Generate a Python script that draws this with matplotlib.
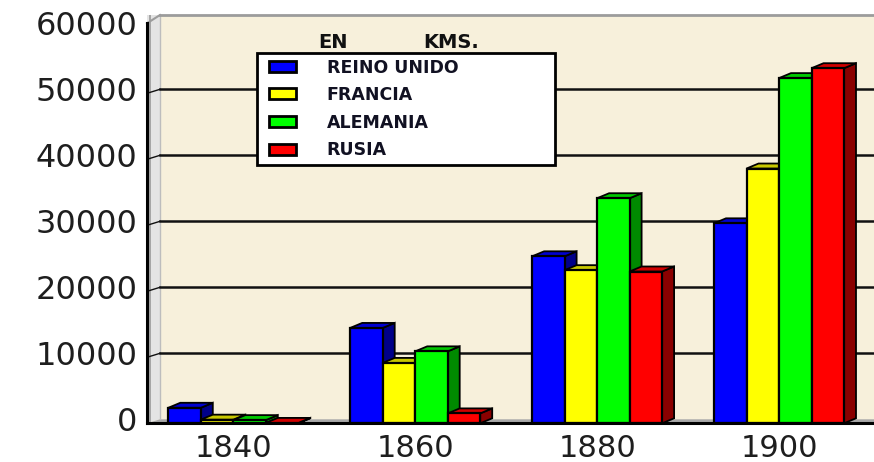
import matplotlib
matplotlib.use("Agg")
import matplotlib.pyplot as plt
from matplotlib.patches import Polygon, Rectangle, Patch
from matplotlib.legend_handler import HandlerPatch
import numpy as np

# ---- data ----
years = ["1840", "1860", "1880", "1900"]
series_names = ["REINO UNIDO", "FRANCIA", "ALEMANIA", "RUSIA"]
reino_unido = [2350, 14450, 25300, 30300]
francia = [550, 9150, 23200, 38600]
alemania = [480, 10900, 34100, 52300]
rusia = [60, 1500, 23000, 53800]
yticks = [0, 10000, 20000, 30000, 40000, 50000, 60000]

front_colors = ["#0000FF", "#FFFF00", "#00FF00", "#FF0000"]
side_colors = ["#00008A", "#8A8A00", "#008A00", "#8A0000"]
top_colors = ["#0000D0", "#C8C800", "#00C800", "#D00000"]
values = [reino_unido, francia, alemania, rusia]

W, H = 874, 462
fig = plt.figure(figsize=(W / 100, H / 100), dpi=100)
fig.patch.set_facecolor("white")

# axes box in pixels
ax_l, ax_r, ax_b, ax_t = 147, 874, 423.3, 15
ax = fig.add_axes([ax_l / W, (H - ax_b) / H, (ax_r - ax_l) / W, (ax_b - ax_t) / H])

px_per_unit_y = 66 / 10000.0
px_per_cat = 181.9
ymax = (ax_b - ax_t) / px_per_unit_y
center0_px = 168.3 + 65
xmin = (ax_l - center0_px) / px_per_cat
xmax = (ax_r - center0_px) / px_per_cat
ax.set_xlim(xmin, xmax)
ax.set_ylim(0, ymax)
ax.set_facecolor("#F7F0DB")

bw = 32.5 / px_per_cat
dx = 12 / px_per_cat
dyb = 5 / px_per_unit_y
wall_dx = 13 / px_per_cat
wall_dy = 4 / px_per_unit_y

# left wall and floor
ax.add_patch(Polygon([(xmin, 0), (xmin + wall_dx, wall_dy), (xmin + wall_dx, ymax), (xmin, ymax)],
                     closed=True, facecolor="#E4E4E4", edgecolor="none", zorder=1))
ax.plot([xmin + 0.25 * wall_dx] * 2, [0, ymax], color="#9A9A9A", lw=1.2, zorder=1.1)
ax.plot([xmin + wall_dx] * 2, [wall_dy, ymax], color="#BDBDBD", lw=1.0, zorder=1.1)
ax.add_patch(Polygon([(xmin, 0), (xmin + wall_dx, wall_dy), (xmax, wall_dy), (xmax, 0)],
                     closed=True, facecolor="#A8A8A8", edgecolor="none", zorder=1))

# gridlines on back wall
grid_pos = [v + wall_dy for v in yticks]
for g in grid_pos[1:-1]:
    ax.plot([xmin + wall_dx, xmax], [g, g], color="#111111", lw=1.8, zorder=1.5)
    ax.plot([xmin, xmin + wall_dx], [g - wall_dy, g], color="#111111", lw=1.0, zorder=1.5)

# bars
x = np.arange(len(years))
for s, vals in enumerate(values):
    lefts = x + (s - 2) * bw
    for i, v in enumerate(vals):
        x0 = lefts[i]
        side = Polygon([(x0 + bw, 0), (x0 + bw + dx, dyb), (x0 + bw + dx, v + dyb), (x0 + bw, v)],
                       closed=True, facecolor=side_colors[s], edgecolor="black", lw=1.3,
                       zorder=2 + s * 0.1)
        top = Polygon([(x0, v), (x0 + dx, v + dyb), (x0 + bw + dx, v + dyb), (x0 + bw, v)],
                      closed=True, facecolor=top_colors[s], edgecolor="black", lw=1.3,
                      zorder=2 + s * 0.1 + 0.01)
        ax.add_patch(side)
        ax.add_patch(top)
    ax.bar(lefts, vals, width=bw, align="edge", color=front_colors[s], edgecolor="black",
           linewidth=1.6, zorder=2 + s * 0.1 + 0.02, label=series_names[s])

# spines
ax.spines["right"].set_visible(False)
ax.spines["top"].set_visible(False)
ax.plot([xmin + wall_dx, xmax], [ymax, ymax], color="#9C9C9C", lw=2.0, zorder=1.6, clip_on=False)
ax.spines["left"].set_color("black")
ax.spines["left"].set_linewidth(2.2)
ax.spines["left"].set_bounds(0, 60000 + wall_dy)
ax.plot([xmin, xmin + wall_dx], [60000 + wall_dy, ymax], color="#9C9C9C", lw=1.5, zorder=1.6, clip_on=False)
ax.spines["bottom"].set_color("black")
ax.spines["bottom"].set_linewidth(2.2)

ax.set_yticks(grid_pos)
ax.set_yticklabels([str(v) for v in yticks])
ax.set_xticks(x)
ax.set_xticklabels(years)
ax.tick_params(axis="y", length=0, pad=7, labelsize=23, labelcolor="#1E1E1E")
ax.tick_params(axis="x", length=0, pad=8, labelsize=22, labelcolor="#1E1E1E")
for lab in ax.get_xticklabels() + ax.get_yticklabels():
    lab.set_fontfamily("DejaVu Sans")


# legend
def make_handle(legend, orig_handle, xdescent, ydescent, width, height, fontsize):
    off = 0.2 * width
    return Rectangle((-xdescent + off, -ydescent), width - off, height)


handles = [Patch(facecolor=front_colors[s], edgecolor="black", linewidth=2.0) for s in range(4)]
leg = ax.legend(handles, series_names, loc="upper left",
                bbox_to_anchor=(257 / W, 1 - 162 / H, (555 - 257) / W, (162 - 53) / H),
                bbox_transform=fig.transFigure, mode="expand", borderaxespad=0,
                prop={"family": "DejaVu Sans", "weight": "bold", "size": 12.5},
                handlelength=1.95, handleheight=0.6, handletextpad=1.75, labelspacing=0.55,
                borderpad=0.32, fancybox=False, framealpha=1, facecolor="white",
                edgecolor="black",
                handler_map={Patch: HandlerPatch(patch_func=make_handle)})
leg.get_frame().set_linewidth(2.0)
leg.set_zorder(5)
for t in leg.get_texts():
    t.set_color("#111122")

fig.text(333 / W, 1 - 42 / H, "EN", ha="center", va="center", fontsize=14,
         fontweight="bold", family="DejaVu Sans", color="#111111")
fig.text(451 / W, 1 - 42 / H, "KMS.", ha="center", va="center", fontsize=14,
         fontweight="bold", family="DejaVu Sans", color="#111111")

fig.savefig("out.png", dpi=100, facecolor="white")
